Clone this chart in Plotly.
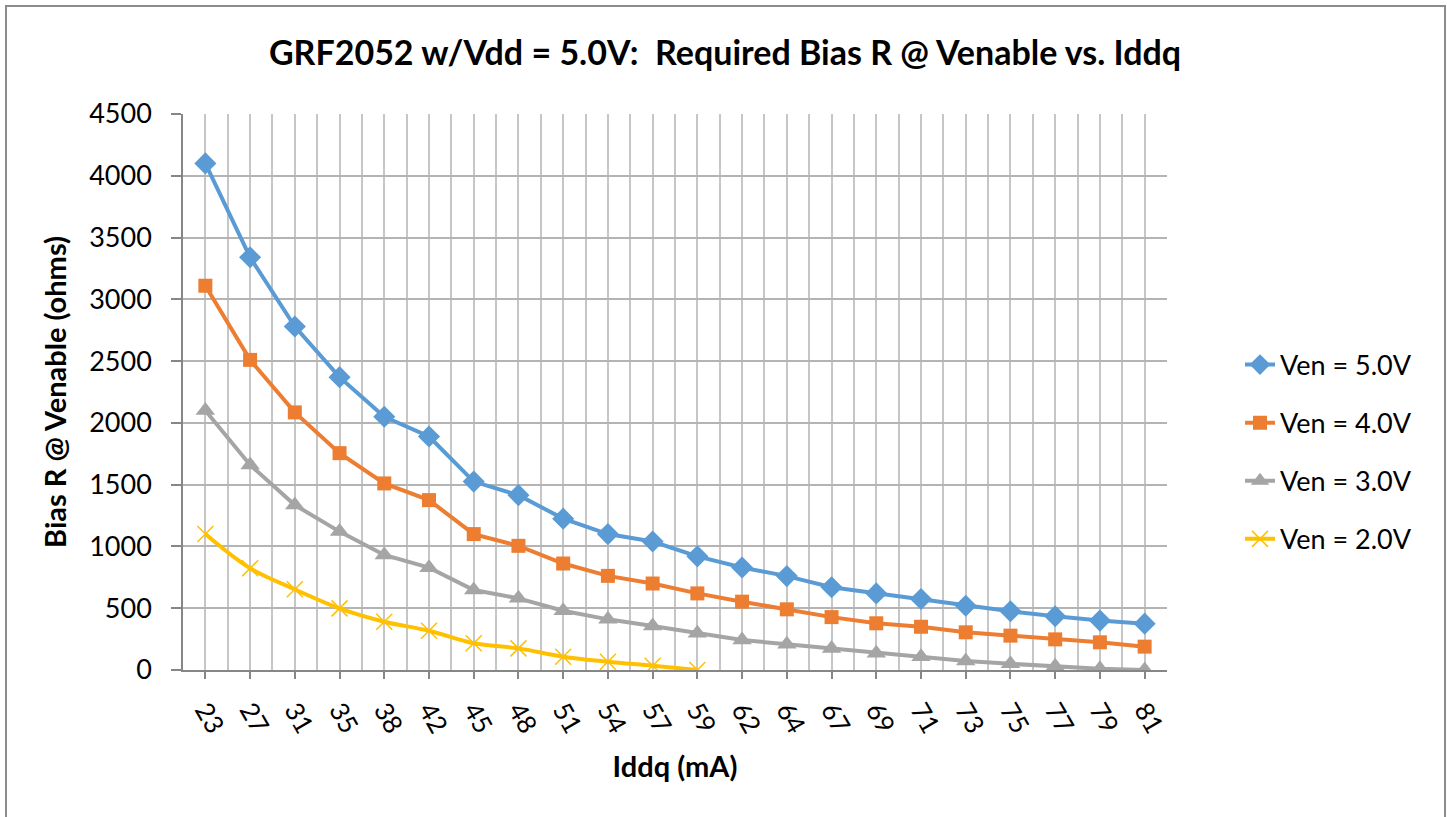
import plotly.graph_objects as go

iddq_labels = ["23", "27", "31", "35", "38", "42", "45", "48", "51", "54", "57",
               "59", "62", "64", "67", "69", "71", "73", "75", "77", "79", "81"]

ven_5v = [4100, 3340, 2780, 2370, 2050, 1890, 1525, 1415, 1225, 1100, 1040,
          920, 830, 760, 670, 620, 575, 520, 475, 435, 400, 375]
ven_4v = [3110, 2510, 2085, 1755, 1510, 1375, 1100, 1005, 862, 762, 700,
          620, 553, 491, 428, 378, 350, 305, 278, 248, 224, 189]
ven_3v = [2100, 1660, 1335, 1120, 931, 828, 647, 580, 480, 410, 356,
          297, 243, 208, 175, 135, 108, 72, 50, 30, 10, 0]
ven_2v = [1100, 823, 653, 499, 391, 318, 216, 175, 108, 67, 35, 0]

series_names = ["Ven = 5.0V", "Ven = 4.0V", "Ven = 3.0V", "Ven = 2.0V"]
series_values = [ven_5v, ven_4v, ven_3v, ven_2v]

colors = ["#5B9BD5", "#ED7D31", "#A5A5A5", "#FFC000"]
symbols = ["diamond", "square", "triangle-up", "x-thin"]
msizes = [17, 14, 17, 16]
shapes = ["linear", "linear", "linear", "spline"]

FONT = "Lato"
fig = go.Figure()
positions = list(range(len(iddq_labels)))
for i, (name, vals) in enumerate(zip(series_names, series_values)):
    marker = dict(symbol=symbols[i], size=msizes[i], color=colors[i])
    if symbols[i] == "x-thin":
        marker["line"] = dict(color=colors[i], width=1.5)
    fig.add_trace(go.Scatter(
        x=positions[:len(vals)], y=vals, name=name, mode="lines+markers",
        line=dict(color=colors[i], width=4, shape=shapes[i]),
        marker=marker, legendgroup=name,
    ))

W, H = 1447, 817
L, R, T, B = 183, 280, 114, 147
pw = W - L - R
ph = H - T - B

def px_x(p):
    return (p - L) / pw

def px_y(p):
    return (H - B - p) / ph

fig.add_shape(type="rect", xref="paper", yref="paper",
              x0=px_x(6), x1=px_x(1445), y0=px_y(830), y1=px_y(6),
              line=dict(color="#8C8C8C", width=2), fillcolor="rgba(0,0,0,0)",
              layer="below")

grid = "#C6C6C6"
axis = "#868686"
fig.update_layout(
    width=W, height=H,
    margin=dict(l=L, r=R, t=T, b=B),
    paper_bgcolor="white", plot_bgcolor="white",
    font=dict(family=FONT, color="#000000"),
    title=dict(text="<b>GRF2052 w/Vdd = 5.0V: \u00a0Required Bias R @ Venable vs. Iddq</b>",
               x=725 / W, xref="container", xanchor="center",
               y=1 - 53 / H, yref="container", yanchor="middle",
               font=dict(family=FONT, size=34, color="#000000")),
    xaxis=dict(
        range=[-0.5, len(iddq_labels) - 0.5],
        tickmode="array", tickvals=positions, ticktext=iddq_labels,
        tickangle=60, tickfont=dict(family=FONT, size=26, color="#000000"),
        showgrid=True, gridcolor=grid, gridwidth=1.5,
        minor=dict(tickmode="linear", tick0=0.5, dtick=1, showgrid=True,
                   gridcolor=grid, gridwidth=1.5, ticks=""),
        ticks="outside", ticklen=7, tickcolor=axis, tickwidth=1.5,
        ticklabelstandoff=6,
        showline=True, linecolor=axis, linewidth=1.5,
        zeroline=False,
        title=dict(text="<b>Iddq (mA)</b>", font=dict(family=FONT, size=29, color="#000000"),
                   standoff=19),
    ),
    yaxis=dict(
        range=[0, 4500], dtick=500, tick0=0,
        tickfont=dict(family=FONT, size=27, color="#000000"),
        showgrid=True, gridcolor="#B4B4B4", gridwidth=1.5,
        ticks="outside", ticklen=10, tickcolor=axis, tickwidth=1.5,
        ticklabelstandoff=14,
        showline=True, linecolor=axis, linewidth=1.5,
        zeroline=False,
        title=dict(text="<b>Bias R @ Venable (ohms)</b>",
                   font=dict(family=FONT, size=29, color="#000000"), standoff=14),
    ),
    legend=dict(x=px_x(1240), xanchor="left", y=px_y(452), yanchor="middle",
                font=dict(family=FONT, size=27, color="#000000"),
                tracegroupgap=20, bgcolor="rgba(0,0,0,0)"),
    showlegend=True,
)

fig.write_html("out.html")
